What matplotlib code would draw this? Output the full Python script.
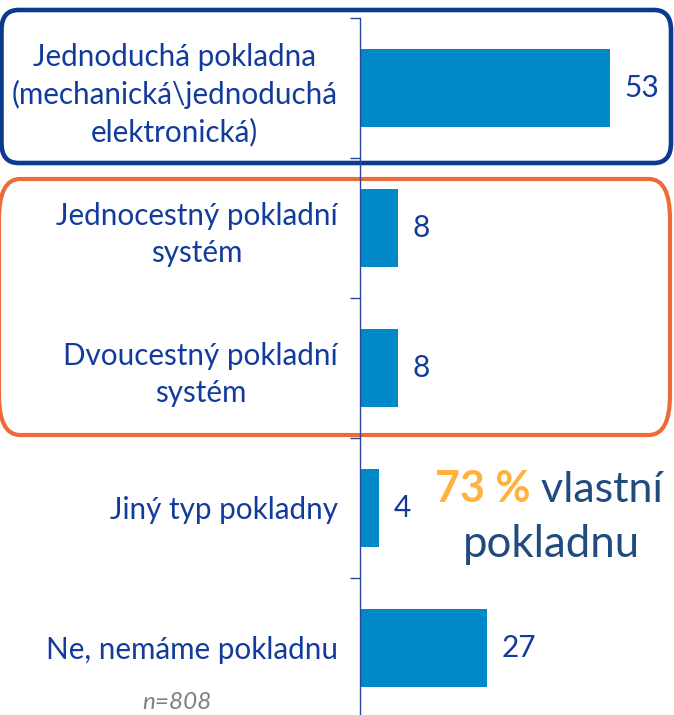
import matplotlib
matplotlib.use("Agg")
import matplotlib.pyplot as plt
from matplotlib.patches import FancyBboxPatch
from matplotlib.transforms import Affine2D
import numpy as np

categories = [
    "Jednoduchá pokladna\n(mechanická\\jednoduchá\nelektronická)",
    "Jednocestný pokladní\nsystém",
    "Dvoucestný pokladní\nsystém",
    "Jiný typ pokladny",
    "Ne, nemáme pokladnu",
]
values = [53, 8, 8, 4, 27]
share_text = "73 %"
share_rest = " vlastní"
share_line2 = "pokladnu"
sample_note = "n=808"

BAR = "#0089C9"
TXT = "#123C9C"
AXIS = "#2A45A0"
NAVY = "#0B3A8E"
ORANGE = "#EE6B36"
GOLD = "#FFB13B"
DARK = "#1F4B7F"

plt.rcParams["font.family"] = ["Lato", "DejaVu Sans"]

W, H = 674, 715
fig = plt.figure(figsize=(W / 100, H / 100), dpi=100)

# overlay in pixel coordinates for the rounded frames and free text
ov = fig.add_axes([0, 0, 1, 1])
ov.set_xlim(0, W)
ov.set_ylim(H, 0)
ov.axis("off")


def rounded_frame(x0, y0, w, h, rx, ry, color, lw):
    # rounded rectangle with elliptical corners (rx wide, ry tall)
    k = ry / rx
    patch = FancyBboxPatch((x0, y0 / k), w, h / k,
                           boxstyle=f"round,pad=0,rounding_size={rx}",
                           transform=Affine2D().scale(1, k) + ov.transData,
                           fill=False, edgecolor=color, linewidth=lw)
    ov.add_patch(patch)


ax = fig.add_axes([360 / W, -3 / H, 1 - 360 / W, 700 / H])
y = np.arange(len(categories))
ax.barh(y, values, height=0.56, color=BAR)
ax.set_xlim(0, 66.6)
ax.set_ylim(len(categories) - 0.5, -0.5)
ax.patch.set_alpha(0)

for s in ["top", "right", "bottom"]:
    ax.spines[s].set_visible(False)
ax.spines["left"].set_color(AXIS)
ax.spines["left"].set_linewidth(1.0)
ax.set_xticks([])
ax.set_yticks(y)
ax.set_yticklabels(categories, fontsize=21.3, color=TXT, ha="right",
                   multialignment="center", linespacing=1.36)
ax.tick_params(axis="y", which="major", length=0, pad=16)
ax.set_yticks(np.arange(-0.5, len(categories) + 0.5, 1), minor=True)
ax.tick_params(axis="y", which="minor", length=7, width=1.0, color=AXIS, direction="out")
for lbl in ax.get_yticklabels():
    lbl.set_va("center_baseline")

for i, v in enumerate(values):
    ax.annotate(str(v), xy=(v, i), xytext=(10.5, 0), textcoords="offset points",
                va="center", ha="left", fontsize=21.5, color=TXT)

# rounded frames around grouped categories
rounded_frame(1.5, 10, 669.5, 153, 17, 20, NAVY, 3.3)
rounded_frame(-1, 179, 671, 256, 21, 40, ORANGE, 3.0)

t1 = ov.text(435, 502, share_text, fontsize=31, fontweight="bold", color=GOLD,
             ha="left", va="baseline")
ov.annotate(share_rest, xy=(1, 0), xycoords=t1, fontsize=31, color=DARK,
            ha="left", va="bottom")
ov.text(551, 557, share_line2, fontsize=31.5, color=DARK, ha="center", va="baseline")

ov.text(177, 709, sample_note, fontsize=17.5, color="#808080", style="italic",
        ha="center", va="baseline")

fig.savefig("out.png", dpi=100)
